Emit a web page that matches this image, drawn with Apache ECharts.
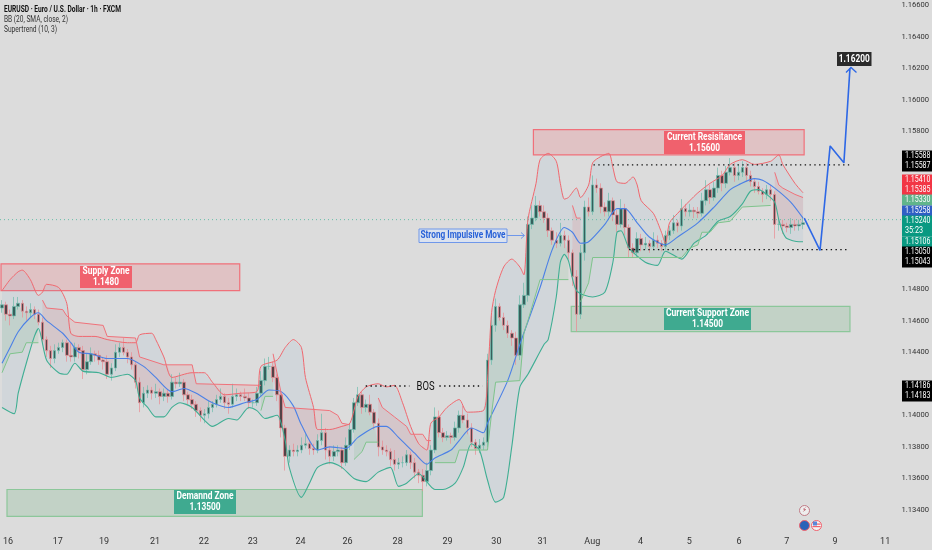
<!DOCTYPE html>
<html><head><meta charset="utf-8">
<style>html,body{margin:0;padding:0;background:#dcdcdc}#c{width:932px;height:550px}</style>
<script src="https://cdn.jsdelivr.net/npm/echarts@6/dist/echarts.min.js"></script>
</head><body><div id="c"></div>
<script>
const closes = [
1.1470,1.1464,1.1463,1.1469,1.1471,1.1466,1.1465,1.1467,1.1464,1.1459,1.1448,1.1441,1.1436,1.1441,1.1443,1.1446,1.1438,1.1437,1.1443,1.1441,
1.1429,1.1434,1.1439,1.1438,1.1435,1.1434,1.1426,1.1430,1.1440,1.1443,1.1440,1.1437,1.1432,1.1421,1.1408,1.1414,1.1416,1.1414,1.1415,1.1412,
1.1414,1.1412,1.1421,1.1420,1.1421,1.1413,1.1410,1.1407,1.1403,1.1400,1.1401,1.1405,1.1407,1.1410,1.1412,1.1408,1.1407,1.1412,1.1413,1.1412,
1.1411,1.1408,1.1408,1.1414,1.1422,1.1431,1.1431,1.1424,1.1413,1.1392,1.1374,1.1378,1.1377,1.1378,1.1381,1.1382,1.1379,1.1378,1.1384,1.1389,
1.1378,1.1374,1.1377,1.1378,1.1370,1.1381,1.1391,1.1408,1.1413,1.1405,1.1407,1.1402,1.1395,1.1380,1.1378,1.1377,1.1372,1.1369,1.1370,1.1370,
1.1375,1.1370,1.1364,1.1362,1.1358,1.1365,1.1378,1.1399,1.1389,1.1386,1.1387,1.1386,1.1392,1.1400,1.1397,1.1392,1.1383,1.1379,1.1381,1.1383,
1.1435,1.1457,1.1469,1.1462,1.1457,1.1452,1.1449,1.1438,1.1470,1.1476,1.1521,1.1525,1.1533,1.1529,1.1525,1.1517,1.1511,1.1509,1.1514,1.1511,
1.1503,1.1488,1.1464,1.1503,1.1532,1.1529,1.1546,1.1544,1.1532,1.1529,1.1536,1.1527,1.1521,1.1531,1.1519,1.1506,1.1503,1.1512,1.1508,1.1509,
1.1507,1.1511,1.1509,1.1507,1.1514,1.1517,1.1522,1.1520,1.1531,1.1529,1.1530,1.1529,1.1528,1.1536,1.1543,1.1538,1.1544,1.1552,1.1547,1.1554,
1.1557,1.1552,1.1554,1.1557,1.1552,1.1548,1.1545,1.1542,1.1540,1.1543,1.1540,1.1521,1.1521,1.1520,1.1519,1.1521,1.1520,1.1521,1.1522];
const wickUpPips = [
3,2,3,6,4,2,3,4,2,3,3,2,3,4,3,2,2,8,3,2,
3,5,4,2,3,2,4,3,5,3,6,2,3,2,3,4,3,2,5,2,
3,2,5,3,6,2,2,3,2,2,3,4,2,3,5,2,3,8,4,2,
5,3,2,4,6,5,6,3,2,2,2,3,4,3,5,6,2,3,4,12,
3,2,4,3,2,5,4,3,5,2,3,6,2,3,4,3,2,6,3,4,
3,2,3,2,4,5,3,6,4,3,3,2,4,3,6,4,3,2,4,3,
4,6,5,2,3,3,2,4,6,8,5,8,6,3,4,3,2,5,8,3,
3,2,4,5,4,6,6,4,3,3,5,2,3,6,3,2,3,4,3,4,
2,5,3,2,3,3,5,2,6,3,4,2,3,5,6,3,4,5,3,4,
6,3,5,4,3,3,2,3,2,3,3,2,4,3,2,4,3,3,4];
const wickDownPips = [
3,4,6,2,2,4,5,3,3,2,3,4,6,3,2,3,4,3,3,5,
6,3,2,4,3,5,3,4,2,3,2,4,3,4,6,3,3,4,3,5,
3,4,2,3,2,4,3,3,4,4,5,3,3,2,2,4,6,2,3,3,
2,4,3,2,2,3,2,3,4,6,9,4,3,3,2,2,4,3,2,3,
6,5,3,3,4,2,3,2,2,4,3,2,4,6,3,3,4,4,3,3,
2,4,4,5,6,3,3,2,3,3,2,4,2,3,2,4,3,4,3,3,
3,3,4,2,3,3,5,6,3,2,4,3,2,3,3,4,3,3,2,5,
4,6,11,3,5,3,2,3,4,3,3,4,5,2,5,6,3,3,4,3,
4,2,3,3,2,3,2,4,3,3,3,4,3,2,3,4,2,3,5,3,
2,4,3,3,4,3,4,2,5,3,4,9,4,5,3,4,3,3,3];
const bbUpper = [[0,1.1479],[2,1.1486],[4,1.1491],[5,1.1492],[7,1.1486],[9,1.1476],[10,1.1478],[11,1.1483],[14,1.1481],[16,1.1471],[17,1.1452],[19,1.1450],[23,1.1450],[26,1.1448],[31,1.1446],[33,1.1446],[34,1.1451],[37,1.1452],[38,1.1448],[40,1.1437],[42,1.1424],[47,1.1427],[50,1.1427],[52,1.1421],[55,1.1413],[59,1.1414],[63,1.1415],[64,1.1431],[68,1.1435],[70,1.1443],[72,1.1448],[74,1.1443],[75,1.1424],[77,1.1405],[78,1.1391],[81,1.1391],[84,1.1393],[86,1.1395],[88,1.1412],[90,1.1418],[93,1.1420],[95,1.1418],[97,1.1419],[99,1.1408],[101,1.1393],[103,1.1382],[105,1.1378],[106,1.1395],[108,1.1399],[110,1.1405],[113,1.1410],[115,1.1402],[119,1.1403],[120,1.1422],[121,1.1465],[122,1.1479],[124,1.1494],[126,1.1499],[128,1.1494],[129,1.1489],[130,1.1524],[132,1.1547],[133,1.1562],[135,1.1566],[137,1.1561],[138,1.1547],[139,1.1537],[140,1.1538],[142,1.1544],[143,1.1538],[145,1.1546],[146,1.1560],[148,1.1564],[150,1.1566],[151,1.1557],[152,1.1548],[154,1.1547],[156,1.1551],[157,1.1546],[158,1.1536],[161,1.1528],[163,1.1516],[164,1.1509],[165,1.1522],[167,1.1528],[170,1.1536],[172,1.1541],[175,1.1547],[178,1.1552],[180,1.1559],[183,1.1562],[186,1.1559],[190,1.1561],[192,1.1565],[193,1.1559],[196,1.1547],[198,1.1541]];
const bbLower = [[0,1.1405],[3,1.1401],[4,1.1414],[6,1.1433],[8,1.1450],[9,1.1455],[11,1.1435],[14,1.1427],[16,1.1426],[18,1.1433],[20,1.1428],[24,1.1427],[27,1.1424],[31,1.1426],[33,1.1422],[34,1.1411],[36,1.1405],[38,1.1399],[40,1.1399],[42,1.1405],[44,1.1408],[47,1.1405],[50,1.1397],[52,1.1393],[56,1.1398],[58,1.1397],[61,1.1405],[63,1.1403],[65,1.1398],[68,1.1400],[70,1.1384],[71,1.1367],[74,1.1348],[76,1.1357],[78,1.1367],[81,1.1370],[84,1.1367],[87,1.1360],[90,1.1358],[93,1.1364],[96,1.1367],[98,1.1355],[100,1.1357],[103,1.1363],[107,1.1353],[109,1.1353],[112,1.1357],[114,1.1367],[116,1.1382],[118,1.1378],[120,1.1359],[122,1.1345],[124,1.1348],[126,1.1380],[128,1.1418],[130,1.1426],[134,1.1445],[135,1.1448],[137,1.1475],[138,1.1497],[139,1.1502],[140,1.1498],[142,1.1479],[146,1.1475],[149,1.1478],[151,1.1497],[152,1.1516],[153,1.1517],[155,1.1506],[159,1.1497],[162,1.1495],[164,1.1504],[168,1.1499],[171,1.1509],[174,1.1514],[177,1.1523],[180,1.1526],[183,1.1534],[185,1.1542],[187,1.1543],[189,1.1540],[191,1.1535],[192,1.1524],[193,1.1516],[194,1.1512],[197,1.1510],[198,1.1510]];
const bbBasis = [[0,1.1433],[2,1.1443],[4,1.1453],[7,1.1462],[9,1.1465],[11,1.1460],[15,1.1452],[17,1.1446],[19,1.1440],[22,1.1439],[26,1.1436],[31,1.1436],[35,1.1431],[38,1.1424],[42,1.1415],[45,1.1417],[48,1.1414],[52,1.1408],[56,1.1405],[60,1.1408],[63,1.1410],[66,1.1416],[69,1.1415],[72,1.1406],[74,1.1394],[78,1.1378],[81,1.1380],[85,1.1379],[88,1.1386],[93,1.1393],[95,1.1393],[98,1.1386],[102,1.1376],[105,1.1369],[107,1.1373],[111,1.1378],[113,1.1384],[116,1.1392],[119,1.1389],[120,1.1395],[125,1.1422],[128,1.1445],[133,1.1481],[136,1.1505],[139,1.1519],[141,1.1516],[143,1.1509],[145,1.1510],[149,1.1521],[152,1.1531],[154,1.1531],[157,1.1522],[160,1.1513],[164,1.1508],[167,1.1513],[172,1.1522],[176,1.1532],[180,1.1543],[182,1.1546],[186,1.1550],[188,1.1549],[191,1.1544],[195,1.1535],[198,1.1525]];
const stGreen = [
 [[0,1.1427],[2,1.1439],[5,1.1440],[6,1.1446],[9,1.1446]],
 [[64,1.1403],[65,1.1412],[67,1.1412]],
 [[87,1.1372],[89,1.1377],[90,1.1383],[93,1.1383]],
 [[107,1.1370],[112,1.1370],[113,1.1378],[120,1.1378],[121,1.1401],[122,1.1421],[128,1.1422],[129,1.1452],[130,1.1460],[133,1.1486],[140,1.1486]],
 [[143,1.1472],[145,1.1484],[146,1.1500],[168,1.1500],[170,1.1506],[172,1.1508],[173,1.1516],[175,1.1516],[177,1.1522],[180,1.1523],[183,1.1532],[190,1.1533]]];
const stRed = [
 [[10,1.1473],[11,1.1468],[15,1.1467],[16,1.1463],[18,1.1459],[25,1.1457],[26,1.1450],[33,1.1449],[34,1.1437],[40,1.1432],[47,1.1432],[48,1.1420],[64,1.1419]],
 [[67,1.1439],[69,1.1414],[70,1.1405],[81,1.1403],[83,1.1400],[84,1.1395],[86,1.1394]],
 [[93,1.1411],[94,1.1405],[97,1.1399],[100,1.1393],[101,1.1388],[104,1.1388],[105,1.1384],[106,1.1384]],
 [[141,1.1533],[142,1.1525],[143,1.1525]],
 [[191,1.1554],[192,1.1546],[193,1.1544],[196,1.1540],[198,1.1538]]];
const projection = [[198.3,1.1525],[202.2,1.15045],[204.7,1.15707],[208.1,1.1560],[209.6,1.1620]];
const zones = [[-0.25,58.76,1.1496,1.1479,'#f0707a','rgba(240,90,100,0.2)'],[1.23,103.9,1.1353,1.1336,'#8cc79a','rgba(90,170,110,0.2)'],[131.35,198.27,1.1581,1.1565,'#f0707a','rgba(240,90,100,0.2)'],[140.7,209.6,1.1469,1.1453,'#8cc79a','rgba(90,170,110,0.2)']];
const dotted = [[[89.9,1.14186],[100.7,1.14186]],[[108.1,1.14186],[118.8,1.14186]],[[146.2,1.15587],[209.4,1.15587]],[[155,1.1505],[209.4,1.1505]]];
const yTicks = [1.134,1.136,1.138,1.14,1.142,1.144,1.146,1.148,1.15,1.152,1.154,1.156,1.158,1.16,1.162,1.164,1.166];
const xTicks = [1.5,13.8,25.2,37.8,49.9,62,73.8,85.4,97.8,110.1,122.2,133.6,145.9,157.8,169.9,182.2,194,205.9,218.3];
const xLabels = ['16','17','19','21','22','23','24','26','28','29','30','31','Aug','4','5','6','7','9','11'];
const header = [['EURUSD · Euro / U.S. Dollar · 1h · FXCM',117],['BB (20, SMA, close, 2)',64],['Supertrend (10, 3)',53]];
const tags = [['1.15588',156,'#000'],['1.15587',166,'#000'],['1.15410',180,'#f23645'],['1.15385',190,'#f23645'],['1.15330',200,'#60b58c'],['1.15258',211,'#2f5fc4'],['1.15240',221,'#089981'],['35:23',231,'#089981'],['1.15106',242,'#089981'],['1.15050',252,'#000'],['1.15043',262,'#000'],['1.14186',386,'#000'],['1.14183',396,'#000']];
const boxes = [['Supply Zone','1.1480',47,80,132,266,288,'#f0616d'],['Demannd Zone','1.13500',57,174,236,490,514,'#3faa90'],['Current Resisitance','1.15600',75,664,745,131,154,'#f0616d'],['Current Support Zone','1.14500',83,664,751,308,330,'#3faa90']];

const FONT = 'Roboto,sans-serif';
const mc=document.createElement('canvas').getContext('2d');
const fit=(text,font,w)=>{mc.font=font;return w/mc.measureText(text).width;};
const candles = closes.map((c,i)=>{const o=i?closes[i-1]:1.1468;return [i,o,c,Math.min(o,c)-wickDownPips[i]*1e-4,Math.max(o,c)+wickUpPips[i]*1e-4];});
const band=(name,a,b,fill,z)=>({type:'custom',name,silent:true,z,data:[[a[0][0],a[0][1]]],encode:{x:0,y:1},renderItem:(p,api)=>({type:'polygon',shape:{points:a.concat(b.slice().reverse()).map(q=>api.coord(q))},style:{fill}})});
const line=(name,data,color,width,z,extra)=>Object.assign({type:'line',name,data,showSymbol:false,silent:true,z,lineStyle:{color,width}},extra||{});
const closePts=seg=>{const r=[];for(let i=Math.ceil(seg[0][0]);i<=seg[seg.length-1][0];i++)r.push([i,closes[i]]);return r;};
const series=[];
series.push({type:'custom',name:'Zones',silent:true,z:1,data:zones.map((_,i)=>[zones[i][0],zones[i][2]]),encode:{x:0,y:1},
 renderItem:(p,api)=>{const z=zones[p.dataIndex],a=api.coord([z[0],z[2]]),b=api.coord([z[1],z[3]]);return {type:'rect',shape:{x:a[0],y:a[1],width:b[0]-a[0],height:b[1]-a[1]},style:{fill:z[5],stroke:z[4],lineWidth:1.2}};}});
series.push(band('BB fill',bbUpper,bbLower,'rgba(120,170,210,0.10)',2));
stRed.forEach((s,i)=>series.push(band('ST red fill '+i,s,closePts(s),'rgba(240,80,90,0.12)',3)));
stGreen.forEach((s,i)=>series.push(band('ST green fill '+i,s,closePts(s),'rgba(76,175,90,0.11)',3)));
series.push(line('Last price',[[-0.5,1.1524],[229.6,1.1524]],'#66bda8',1,4,{lineStyle:{color:'#66bda8',width:1,type:[1,3]}}));
series.push({type:'candlestick',name:'EURUSD',data:candles,barWidth:3,silent:true,z:5,itemStyle:{color:'#35605c',color0:'#544247',borderColor:'#6dbbac',borderColor0:'#e98a91',borderWidth:0.7}});
series.push(line('BB upper',bbUpper,'#f0686f',1,6,{smooth:0.25}));
series.push(line('BB lower',bbLower,'#3fae93',1.1,6,{smooth:0.25}));
series.push(line('BB basis',bbBasis,'#4b80e6',1.1,6,{smooth:0.25}));
stRed.forEach((s,i)=>series.push(line('ST red '+i,s,'#f0727a',1,6)));
stGreen.forEach((s,i)=>series.push(line('ST green '+i,s,'#7fc48c',1,6)));
dotted.forEach((s,i)=>series.push(line('Level '+i,s,'#111',1.4,7,{lineStyle:{color:'#111',width:1.4,type:[1.4,3.4]}})));
series.push(line('Projection',projection,'#2e68e6',1.6,8));
series.push({type:'custom',name:'Zone labels',silent:true,z:18,clip:false,data:boxes.map(b=>[0,1.15]),encode:{x:0,y:1},
 renderItem:(p)=>{const b=boxes[p.dataIndex],f='bold 11px '+FONT,cx=(b[3]+b[4])/2,my=(b[5]+b[6])/2;return {type:'group',children:[
  {type:'rect',shape:{x:b[3],y:b[5],width:b[4]-b[3],height:b[6]-b[5]},style:{fill:b[7]}},
  {type:'text',x:cx,y:my-5.4,scaleX:fit(b[0],f,b[2]),style:{text:b[0],fill:'#fff',font:f,textAlign:'center',textVerticalAlign:'middle'}},
  {type:'text',x:cx,y:my+5.4,scaleX:fit(b[1],f,b[1].length>6?31:26),style:{text:b[1],fill:'#fff',font:f,textAlign:'center',textVerticalAlign:'middle'}}]};}});

const g=[];
const txt=(x,y,text,o,w)=>{const s=Object.assign({text,fill:'#222',font:'9px '+FONT,textAlign:'left',textVerticalAlign:'middle'},o||{});return {type:'text',x,y,z:20,silent:true,scaleX:w?fit(text,s.font,w):1,style:s};};
const rect=(x,y,w,h,fill,o)=>({type:'rect',z:19,silent:true,shape:{x,y,width:w,height:h},style:Object.assign({fill},o||{})});
header.forEach((t,i)=>g.push(txt(4,9.5+i*10,t[0],i?{fill:'#333',font:'9.5px '+FONT}:{fill:'#111',font:'bold 9.5px '+FONT},t[1])));
tags.forEach(t=>{g.push(rect(902,t[1]-5.5,30,11,t[2]));g.push(txt(905,t[1],t[0],{fill:'#fff',font:'8.8px '+FONT},t[0].length>5?25.5:18));});
g.push(rect(837,52,34.5,14,'#2b2b2b'));g.push(txt(854.2,59,'1.16200',{fill:'#fff',font:'bold 11px '+FONT,textAlign:'center'},31));
g.push({type:'polyline',z:19,silent:true,shape:{points:[[846,72.5],[851,67.5],[856.5,72.5]]},style:{stroke:'#2e68e6',lineWidth:1.3,fill:'none'}});
g.push(rect(419,229,88,13.5,'#dbe2ef',{stroke:'#6f97ea',lineWidth:1}));
g.push(txt(463,235.8,'Strong Impulsive Move',{fill:'#2962d8',font:'bold 10px '+FONT,textAlign:'center'},85));
g.push({type:'polyline',z:19,silent:true,shape:{points:[[507,235.5],[524,235.5]]},style:{stroke:'#6f97ea',lineWidth:1,fill:'none'}});
g.push({type:'polyline',z:19,silent:true,shape:{points:[[521,232.5],[524.5,235.5],[521,238.5]]},style:{stroke:'#6f97ea',lineWidth:1,fill:'none'}});
g.push(txt(425.5,386.5,'BOS',{fill:'#111',font:'12px '+FONT,textAlign:'center'},18));
const circ=(x,y,r,fill,stroke)=>({type:'circle',z:19,silent:true,shape:{cx:x,cy:y,r},style:{fill,stroke,lineWidth:1}});
g.push(circ(804.5,510.5,5,'#eee','#c07a85'));g.push(txt(804.5,510.5,'⚡',{fill:'#b03a4a',font:'7px "DejaVu Sans"',textAlign:'center'}));
g.push(circ(804.5,525.5,5,'#2a63b8','#f0616d'));
g.push(circ(816.5,525.5,5,'#f4f4f4','#f0616d'));
g.push({type:'rect',z:20,silent:true,shape:{x:813,y:521.5,width:4,height:4},style:{fill:'#5a86d8'}});
g.push({type:'rect',z:20,silent:true,shape:{x:812.5,y:526,width:8,height:1.2},style:{fill:'#f0616d'}});
g.push({type:'rect',z:20,silent:true,shape:{x:817,y:523.5,width:3.5,height:1.2},style:{fill:'#f0616d'}});

const chart=echarts.init(document.getElementById('c'),null,{renderer:'canvas'});
chart.setOption({animation:false,backgroundColor:'#dcdcdc',tooltip:{show:false},graphic:g,
 grid:{left:0,right:0,top:0.3,bottom:0.55,containLabel:false},
 xAxis:{type:'value',min:-0.5,max:229.63,splitLine:{show:false},axisLine:{show:false},axisTick:{show:false},
  axisLabel:{inside:true,margin:3,color:'#333',fontSize:9,fontFamily:FONT,showMinLabel:true,showMaxLabel:true,customValues:xTicks,formatter:v=>xLabels[xTicks.indexOf(v)]||''}},
 yAxis:{type:'value',position:'right',min:1.1315,max:1.1663,splitLine:{show:false},axisLine:{show:false},axisTick:{show:false},
  axisLabel:{inside:true,margin:2,color:'#333',fontSize:7.6,fontFamily:FONT,customValues:yTicks,formatter:v=>v.toFixed(5)}},
 series});
</script></body></html>
